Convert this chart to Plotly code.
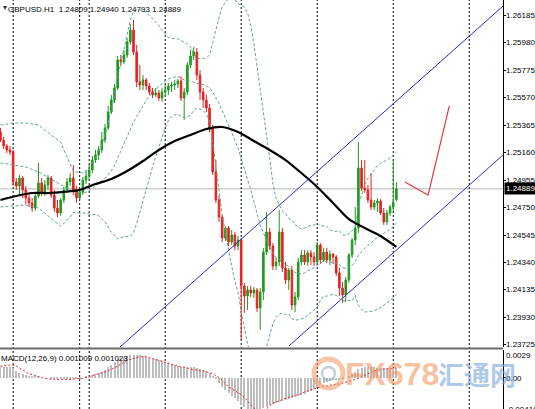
import numpy as np
import plotly.graph_objects as go

# ---------------- data ----------------
bar_index = list(range(126))

opens = [1.25313, 1.25253, 1.25209, 1.25179, 1.25164, 1.24940, 1.24910, 1.24970, 1.24881, 1.24821,
         1.24784, 1.24746, 1.24836, 1.24933, 1.24866, 1.24918, 1.24970, 1.24843, 1.24746, 1.24709,
         1.24806, 1.24881, 1.24940, 1.24970, 1.24881, 1.24821, 1.24866, 1.24955, 1.24985, 1.25030,
         1.25104, 1.25141, 1.25179, 1.25253, 1.25343, 1.25462, 1.25552, 1.25641, 1.25850, 1.25835,
         1.25887, 1.25984, 1.26073, 1.25909, 1.25686, 1.25663, 1.25701, 1.25656, 1.25611, 1.25589,
         1.25604, 1.25566, 1.25611, 1.25626, 1.25656, 1.25663, 1.25671, 1.25693, 1.25566, 1.25611,
         1.25812, 1.25880, 1.25909, 1.25738, 1.25611, 1.25552, 1.25492, 1.25343, 1.25015, 1.24806,
         1.24679, 1.24523, 1.24597, 1.24493, 1.24545, 1.24463, 1.24508, 1.24165, 1.24090, 1.24135,
         1.24113, 1.24135, 1.24001, 1.24120, 1.24418, 1.24567, 1.24463, 1.24314, 1.24344, 1.24567,
         1.24299, 1.24210, 1.24284, 1.24023, 1.24083, 1.24344, 1.24396, 1.24344, 1.24411, 1.24381,
         1.24344, 1.24470, 1.24359, 1.24418, 1.24359, 1.24403, 1.24381, 1.24262, 1.24150, 1.24098,
         1.24210, 1.24396, 1.24508, 1.24597, 1.25045, 1.24895, 1.24881, 1.24806, 1.24754, 1.24784,
         1.24798, 1.24709, 1.24642, 1.24709, 1.24754, 1.24809]

highs = [1.25343, 1.25276, 1.25223, 1.25209, 1.25179, 1.24970, 1.24992, 1.24985, 1.24910, 1.24858,
         1.24821, 1.24851, 1.25082, 1.24970, 1.24955, 1.24992, 1.24985, 1.24881, 1.24806, 1.24821,
         1.24903, 1.24970, 1.25007, 1.25067, 1.24910, 1.24895, 1.24977, 1.25030, 1.25067, 1.25134,
         1.25179, 1.25209, 1.25313, 1.25373, 1.25507, 1.25589, 1.25671, 1.25880, 1.25887, 1.25924,
         1.26014, 1.26118, 1.26148, 1.25962, 1.25812, 1.25738, 1.25716, 1.25678, 1.25641, 1.25641,
         1.25626, 1.25641, 1.25663, 1.25678, 1.25686, 1.25701, 1.25708, 1.25730, 1.25641, 1.25835,
         1.25924, 1.25947, 1.25939, 1.25775, 1.25641, 1.25589, 1.25522, 1.25365, 1.25104, 1.24836,
         1.24694, 1.24612, 1.24612, 1.24582, 1.24567, 1.24538, 1.24523, 1.24187, 1.24165, 1.24165,
         1.24157, 1.24150, 1.24150, 1.24448, 1.24717, 1.24597, 1.24485, 1.24374, 1.24731, 1.24597,
         1.24344, 1.24299, 1.24314, 1.24120, 1.24374, 1.24433, 1.24433, 1.24433, 1.24433, 1.24418,
         1.24493, 1.24485, 1.24448, 1.24448, 1.24433, 1.24411, 1.24396, 1.24299, 1.24195, 1.24232,
         1.24411, 1.24523, 1.24754, 1.25238, 1.25104, 1.25104, 1.24918, 1.25007, 1.24806, 1.24821,
         1.24813, 1.24746, 1.24731, 1.24769, 1.25104, 1.24940]

lows = [1.25238, 1.25186, 1.25156, 1.25141, 1.24910, 1.24881, 1.24843, 1.24821, 1.24776, 1.24754,
        1.24717, 1.24724, 1.24821, 1.24836, 1.24836, 1.24881, 1.24821, 1.24717, 1.24679, 1.24687,
        1.24784, 1.24858, 1.24910, 1.24843, 1.24784, 1.24806, 1.24843, 1.24925, 1.24955, 1.25007,
        1.25082, 1.25104, 1.25156, 1.25231, 1.25328, 1.25447, 1.25529, 1.25626, 1.25805, 1.25820,
        1.25865, 1.25962, 1.25887, 1.25648, 1.25626, 1.25626, 1.25626, 1.25589, 1.25566, 1.25574,
        1.25544, 1.25537, 1.25581, 1.25589, 1.25611, 1.25626, 1.25641, 1.25544, 1.25402, 1.25589,
        1.25790, 1.25850, 1.25701, 1.25552, 1.25492, 1.25462, 1.25313, 1.24992, 1.24784, 1.24642,
        1.24493, 1.24500, 1.24463, 1.24470, 1.24433, 1.24433, 1.23762, 1.23964, 1.23986, 1.24083,
        1.24075, 1.23971, 1.23837, 1.24061, 1.24396, 1.24433, 1.24284, 1.24284, 1.24314, 1.24269,
        1.24180, 1.24135, 1.23986, 1.23971, 1.24061, 1.24321, 1.24321, 1.24314, 1.24321, 1.24314,
        1.24329, 1.24329, 1.24344, 1.24336, 1.24321, 1.24329, 1.24239, 1.24090, 1.24038, 1.24046,
        1.24187, 1.24374, 1.24470, 1.24560, 1.24873, 1.24858, 1.24784, 1.24731, 1.24731, 1.24717,
        1.24694, 1.24620, 1.24620, 1.24687, 1.24717, 1.24793]

closes = [1.25253, 1.25209, 1.25179, 1.25164, 1.24940, 1.24910, 1.24970, 1.24881, 1.24821, 1.24784,
          1.24746, 1.24836, 1.24933, 1.24866, 1.24918, 1.24970, 1.24843, 1.24746, 1.24709, 1.24806,
          1.24881, 1.24940, 1.24970, 1.24881, 1.24821, 1.24866, 1.24955, 1.24985, 1.25030, 1.25104,
          1.25141, 1.25179, 1.25253, 1.25343, 1.25462, 1.25552, 1.25641, 1.25850, 1.25835, 1.25887,
          1.25984, 1.26073, 1.25909, 1.25686, 1.25663, 1.25701, 1.25656, 1.25611, 1.25589, 1.25604,
          1.25566, 1.25611, 1.25626, 1.25656, 1.25663, 1.25671, 1.25693, 1.25566, 1.25611, 1.25812,
          1.25880, 1.25909, 1.25738, 1.25611, 1.25552, 1.25492, 1.25343, 1.25015, 1.24806, 1.24679,
          1.24523, 1.24597, 1.24493, 1.24545, 1.24463, 1.24508, 1.24165, 1.24090, 1.24135, 1.24113,
          1.24135, 1.24001, 1.24120, 1.24418, 1.24567, 1.24463, 1.24314, 1.24344, 1.24567, 1.24299,
          1.24210, 1.24284, 1.24023, 1.24083, 1.24344, 1.24396, 1.24344, 1.24411, 1.24381, 1.24344,
          1.24470, 1.24359, 1.24418, 1.24359, 1.24403, 1.24381, 1.24262, 1.24150, 1.24098, 1.24210,
          1.24396, 1.24508, 1.24597, 1.25045, 1.24895, 1.24881, 1.24806, 1.24754, 1.24784, 1.24798,
          1.24709, 1.24642, 1.24709, 1.24754, 1.24791, 1.24889]

# black moving average, read every 5 bars
ma_index = list(range(0, 126, 5))
ma_values = [1.24806, 1.24836, 1.24858, 1.24858, 1.24866, 1.24881, 1.24925, 1.24963, 1.25022, 1.25097,
             1.25179, 1.25246, 1.25291, 1.25335, 1.25350, 1.25313, 1.25246, 1.25179, 1.25104, 1.25007,
             1.24903, 1.24784, 1.24664, 1.24597, 1.24538, 1.24456]

# Bollinger band values read where the 20-bar window starts before the visible data
bb_early_index = [0, 4, 8, 12, 16]
bb_early_upper = [1.25365, 1.25380, 1.25380, 1.25365, 1.25291]
bb_early_mid = [1.25082, 1.25067, 1.25052, 1.25015, 1.24963]
bb_early_lower = [1.24754, 1.24761, 1.24769, 1.24746, 1.24672]
bb_period = 20
bb_dev = 2.0

macd_main = [0.00114, 0.00116, 0.00115, 0.00112, 0.00100, 0.00070, 0.00050, 0.00040, 0.00030, 0.00020,
             0.00010, 0.00010, 0.00010, 0.00000, 0.00000, 0.00000, -0.00010, -0.00010, -0.00020, -0.00020,
             -0.00020, -0.00010, -0.00010, -0.00010, -0.00010, -0.00010, 0.00000, 0.00010, 0.00020, 0.00030,
             0.00040, 0.00050, 0.00060, 0.00080, 0.00110, 0.00130, 0.00160, 0.00190, 0.00210, 0.00220,
             0.00230, 0.00240, 0.00240, 0.00240, 0.00240, 0.00230, 0.00220, 0.00210, 0.00200, 0.00190,
             0.00180, 0.00170, 0.00160, 0.00150, 0.00140, 0.00130, 0.00120, 0.00110, 0.00110, 0.00110,
             0.00110, 0.00110, 0.00100, 0.00090, 0.00080, 0.00070, 0.00050, 0.00020, -0.00020, -0.00060,
             -0.00100, -0.00130, -0.00160, -0.00190, -0.00220, -0.00250, -0.00290, -0.00310, -0.00330, -0.00340,
             -0.00350, -0.00340, -0.00340, -0.00320, -0.00310, -0.00290, -0.00280, -0.00270, -0.00260, -0.00250,
             -0.00240, -0.00230, -0.00220, -0.00210, -0.00200, -0.00180, -0.00170, -0.00150, -0.00140, -0.00120,
             -0.00100, -0.00080, -0.00060, -0.00050, -0.00040, -0.00030, -0.00030, -0.00030, -0.00020, 0.00000,
             0.00020, 0.00040, 0.00060, 0.00090, 0.00100, 0.00110, 0.00110, 0.00110, 0.00110, 0.00100,
             0.00100, 0.00100, 0.00100, 0.00100, 0.00100, 0.001009]

macd_signal = [0.00120, 0.00120, 0.00130, 0.00130, 0.00130, 0.00120, 0.00100, 0.00080, 0.00060, 0.00040,
               0.00030, 0.00020, 0.00010, 0.00000, -0.00010, -0.00010, -0.00020, -0.00020, -0.00020, -0.00020,
               -0.00020, -0.00020, -0.00020, -0.00020, -0.00010, -0.00010, -0.00010, 0.00000, 0.00010, 0.00020,
               0.00030, 0.00040, 0.00050, 0.00060, 0.00070, 0.00090, 0.00100, 0.00120, 0.00140, 0.00160,
               0.00180, 0.00190, 0.00200, 0.00210, 0.00220, 0.00220, 0.00220, 0.00210, 0.00200, 0.00190,
               0.00180, 0.00170, 0.00160, 0.00150, 0.00140, 0.00130, 0.00120, 0.00110, 0.00110, 0.00100,
               0.00090, 0.00080, 0.00080, 0.00070, 0.00070, 0.00060, 0.00050, 0.00040, 0.00020, 0.00000,
               -0.00030, -0.00070, -0.00100, -0.00120, -0.00140, -0.00160, -0.00180, -0.00210, -0.00250, -0.00290,
               -0.00330, -0.00360, -0.00360, -0.00350, -0.00330, -0.00300, -0.00270, -0.00260, -0.00250, -0.00230,
               -0.00220, -0.00210, -0.00200, -0.00190, -0.00180, -0.00170, -0.00150, -0.00140, -0.00130, -0.00120,
               -0.00110, -0.00100, -0.00090, -0.00090, -0.00080, -0.00080, -0.00070, -0.00070, -0.00060, -0.00050,
               -0.00040, -0.00030, -0.00020, -0.00010, 0.00010, 0.00020, 0.00040, 0.00050, 0.00070, 0.00080,
               0.00080, 0.00090, 0.00090, 0.00090, 0.00100, 0.001023]

price_ticks = [1.26185, 1.25980, 1.25775, 1.25570, 1.25365, 1.25160, 1.24955,
               1.24750, 1.24545, 1.24340, 1.24135, 1.23930, 1.23725]
price_tick_labels = ["1.26185", "1.25980", "1.25775", "1.25570", "1.25365", "1.25160", "1.24955",
                     "1.24750", "1.24545", "1.24340", "1.24135", "1.23930", "1.23725"]
macd_ticks = [0.0029, 0.0, -0.004108]
macd_tick_labels = ["0.0029", "0.00", "-0.004108"]
bid_price = 1.24889
day_separators = [4, 25, 28, 52, 76, 100, 124, 148]

# hand-drawn objects on the chart (bar index, price)
channel_upper = ([37.74, 158.67], [1.23710, 1.26252])
channel_lower = ([91.10, 158.67], [1.23718, 1.25142])
arrow_path = ([127.7, 135.0, 141.7], [1.24940, 1.24843, 1.25507])

title_text = "GBPUSD.H1  1.24809 1.24940 1.24793 1.24889"
macd_text = "MACD(12,26,9) 0.001009 0.001023"

# ---------------- figure ----------------
W, H = 535, 409
PW = 503  # plot width in px
GREEN = "#1f9a1f"
RED = "#e62222"
BB_COLOR = "#5fa595"
FONT = "Liberation Sans, Arial, sans-serif"
FS = 8


def px_x(px):
    return px / PW


def px_y(py):
    return 1 - py / H


# Bollinger bands
c = np.array(closes)
bb_idx = list(range(bb_period - 1, len(c)))
bb_mid = [float(c[i - bb_period + 1:i + 1].mean()) for i in bb_idx]
bb_sd = [float(c[i - bb_period + 1:i + 1].std()) for i in bb_idx]
bb_up = [m + bb_dev * s for m, s in zip(bb_mid, bb_sd)]
bb_lo = [m - bb_dev * s for m, s in zip(bb_mid, bb_sd)]

fig = go.Figure()

for early, comp in [(bb_early_upper, bb_up), (bb_early_mid, bb_mid), (bb_early_lower, bb_lo)]:
    fig.add_trace(go.Scatter(x=bb_early_index + bb_idx, y=early + comp, mode="lines",
                             line=dict(color=BB_COLOR, width=1, dash="3px,2px"),
                             hoverinfo="skip", xaxis="x", yaxis="y"))

fig.add_trace(go.Candlestick(
    x=bar_index, open=opens, high=highs, low=lows, close=closes,
    increasing=dict(line=dict(color=GREEN, width=1), fillcolor=GREEN),
    decreasing=dict(line=dict(color=RED, width=1), fillcolor=RED),
    whiskerwidth=0, hoverinfo="skip", xaxis="x", yaxis="y"))

fig.add_trace(go.Scatter(x=ma_index, y=ma_values, mode="lines",
                         line=dict(color="black", width=2.2, shape="spline", smoothing=0.8),
                         hoverinfo="skip", xaxis="x", yaxis="y"))

for ch in (channel_upper, channel_lower):
    fig.add_trace(go.Scatter(x=ch[0], y=ch[1], mode="lines",
                             line=dict(color="#2a2ad0", width=1), hoverinfo="skip",
                             xaxis="x", yaxis="y"))

fig.add_trace(go.Scatter(x=arrow_path[0], y=arrow_path[1], mode="lines",
                         line=dict(color="#e23a3a", width=1.2), hoverinfo="skip",
                         xaxis="x", yaxis="y"))

# MACD pane
fig.add_trace(go.Bar(x=bar_index, y=macd_main, width=0.32, marker=dict(color="#bdbdbd", line=dict(width=0)),
                     hoverinfo="skip", xaxis="x", yaxis="y2"))
fig.add_trace(go.Scatter(x=bar_index, y=macd_signal, mode="lines",
                         line=dict(color="#e02828", width=1, dash="2px,2px"),
                         hoverinfo="skip", xaxis="x", yaxis="y2"))

shapes = []
shapes.append(dict(type="line", xref="paper", yref="y", x0=0, x1=1, y0=bid_price, y1=bid_price,
                   line=dict(color="#b8b8b8", width=1), layer="below"))
for s in day_separators:
    shapes.append(dict(type="line", xref="x", yref="paper", x0=s, x1=s, y0=0, y1=1,
                       line=dict(color="black", width=1, dash="2px,2px"), layer="below"))
shapes.append(dict(type="line", xref="paper", yref="paper", x0=0, x1=1,
                   y0=px_y(348.5), y1=px_y(348.5), line=dict(color="#6a6a6a", width=2)))
# watermark logo
shapes.append(dict(type="circle", xref="paper", yref="paper",
                   x0=px_x(314), x1=px_x(343), y0=px_y(388), y1=px_y(359),
                   line=dict(color="rgba(240,150,100,0.55)", width=5)))
shapes.append(dict(type="circle", xref="paper", yref="paper",
                   x0=px_x(322), x1=px_x(335), y0=px_y(380), y1=px_y(367),
                   line=dict(color="rgba(140,160,190,0.5)", width=2.5)))

annotations = [
    dict(text="▾", x=px_x(1), y=px_y(8), xref="paper", yref="paper", xanchor="left", yanchor="middle",
         showarrow=False, font=dict(family="DejaVu Sans", size=8, color="#333")),
    dict(text=title_text, x=px_x(6), y=px_y(9), xref="paper", yref="paper", xanchor="left",
         yanchor="middle", showarrow=False, font=dict(family=FONT, size=FS, color="black")),
    dict(text=macd_text, x=px_x(-1), y=px_y(358), xref="paper", yref="paper", xanchor="left",
         yanchor="middle", showarrow=False, font=dict(family=FONT, size=FS, color="black")),
]
# price axis labels
for v, t in zip(price_ticks, price_tick_labels):
    annotations.append(dict(text=t, x=px_x(505), y=v, xref="paper", yref="y", xanchor="left",
                            yanchor="middle", showarrow=False, borderpad=0,
                            font=dict(family=FONT, size=FS, color="black")))
# MACD axis labels (top label sits inside the pane, bottom one is cut by the window)
macd_label_px = [355, 378, 409]
for t, py in zip(macd_tick_labels, macd_label_px):
    annotations.append(dict(text=t, x=px_x(505), y=px_y(py), xref="paper", yref="paper", xanchor="left",
                            yanchor="middle", showarrow=False, borderpad=0,
                            font=dict(family=FONT, size=FS, color="black")))
annotations.append(dict(text=f"{bid_price:.5f}", x=px_x(504), y=bid_price, xref="paper", yref="y",
                        xanchor="left", yanchor="middle", showarrow=False, bgcolor="black", borderpad=1,
                        font=dict(family=FONT, size=FS, color="white")))
# watermark text
annotations.append(dict(text="<b>FX678</b>", x=px_x(392), y=px_y(374), xref="paper", yref="paper",
                        xanchor="center", yanchor="middle", showarrow=False,
                        font=dict(family=FONT, size=32, color="rgba(245,150,95,0.6)")))
annotations.append(dict(text="<b>汇通网</b>", x=px_x(477), y=px_y(373), xref="paper", yref="paper",
                        xanchor="center", yanchor="middle", showarrow=False,
                        font=dict(family="Noto Sans CJK SC", size=26, color="rgba(120,165,215,0.6)")))

fig.update_layout(
    width=W, height=H, margin=dict(l=0, r=W - PW, t=0, b=0),
    plot_bgcolor="white", paper_bgcolor="white", showlegend=False,
    bargap=0, hovermode=False,
    xaxis=dict(range=[-0.15, 158.65], showgrid=False, zeroline=False, showticklabels=False,
               ticks="", rangeslider=dict(visible=False), fixedrange=True, anchor="y"),
    yaxis=dict(domain=[1 - 347 / H, 1], range=[1.23710, 1.26297], side="right", anchor="x",
               tickvals=price_ticks, showticklabels=False, ticks="outside", ticklen=2,
               tickcolor="black", showline=True, linecolor="black", linewidth=1,
               showgrid=False, zeroline=False, fixedrange=True),
    yaxis2=dict(domain=[0, 59 / H], range=[-0.003322, 0.0029], side="right", anchor="x",
                showline=True, linecolor="black", linewidth=1, showgrid=False, zeroline=False,
                showticklabels=False, tickvals=[0.0], ticks="outside", ticklen=2, tickcolor="black",
                fixedrange=True),
    shapes=shapes, annotations=annotations,
)

# place the chart at the page origin (no default body margin), no mode bar
fig.write_html("out.html", config={"displayModeBar": False},
               post_script="document.body.style.margin='0';document.body.style.overflow='hidden';")
